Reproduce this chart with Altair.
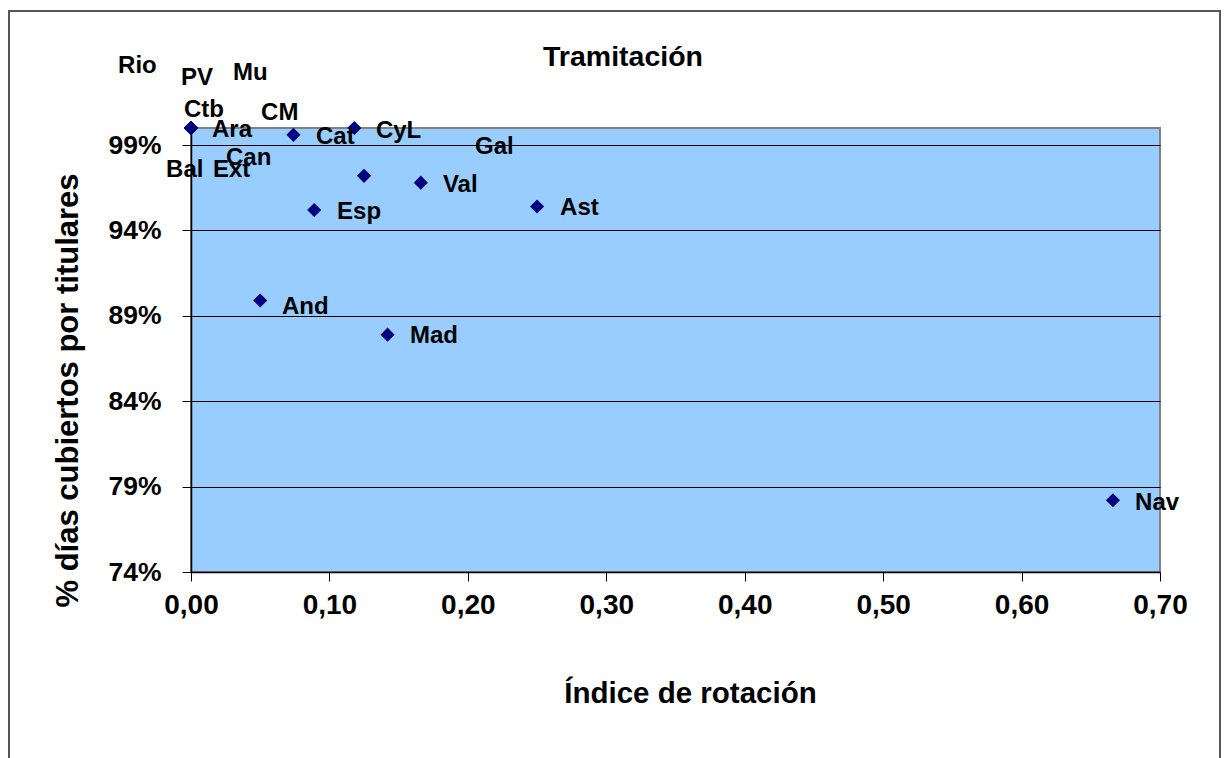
import altair as alt
import pandas as pd

# --- data ---
names = ["Rio", "PV", "Mu", "Ctb", "CM", "Ara", "Cat", "CyL", "Gal", "Can",
         "Bal", "Ext", "Val", "Ast", "Esp", "And", "Mad", "Nav"]
rotacion = [0.0, 0.0, 0.0, 0.0, 0.0, 0.0, 0.074, 0.118, 0.125, 0.0,
            0.0, 0.0, 0.166, 0.250, 0.089, 0.050, 0.142, 0.666]
cobertura = [1.0, 1.0, 1.0, 1.0, 1.0, 1.0, 0.996, 1.0, 0.972, 1.0,
             1.0, 1.0, 0.968, 0.954, 0.952, 0.899, 0.879, 0.782]
# label anchor positions (data units) as placed in the original chart
label_x = [-0.0527, -0.0072, 0.0303, -0.0051, 0.0506, 0.0152, 0.0903, 0.1336, 0.2052, 0.0253,
           -0.0180, 0.0159, 0.1820, 0.2666, 0.1055, 0.0657, 0.1582, 0.6820]
label_y = [1.0363, 1.0293, 1.0322, 1.0105, 1.0088, 0.9988, 0.9947, 0.9982, 0.9889, 0.9824,
           0.9754, 0.9754, 0.9666, 0.9532, 0.9508, 0.8952, 0.8782, 0.7804]

x_ticks = [0.0, 0.1, 0.2, 0.3, 0.4, 0.5, 0.6, 0.7]
y_ticks = [0.74, 0.79, 0.84, 0.89, 0.94, 0.99]

df = pd.DataFrame({"name": names, "x": rotacion, "y": cobertura,
                   "lx": label_x, "ly": label_y})

FONT = "Liberation Sans"
W, H = 969, 444

xscale = alt.Scale(domain=[0, 0.7], nice=False, zero=False)
yscale = alt.Scale(domain=[0.74, 1.0], nice=False, zero=False)

xaxis = alt.Axis(values=x_ticks, labelExpr="replace(format(datum.value, '.2f'), '.', ',')",
                 grid=False, title="Índice de rotación", titleFont=FONT, titleFontSize=29.5,
                 titleFontWeight="bold", titleColor="black", titleX=499, titleY=121,
                 titleBaseline="middle", labelFont=FONT, labelFontSize=28, labelFontWeight="bold",
                 labelColor="black", labelPadding=10, tickSize=9, tickColor="black",
                 domainColor="black", domainWidth=1.5, labelFlush=False)
yaxis = alt.Axis(values=y_ticks, format=".0%", grid=True, gridColor="black", gridWidth=1,
                 gridOpacity=1, title="% días cubiertos por titulares", titleFont=FONT,
                 titleFontSize=31, titleFontWeight="bold", titleColor="black",
                 titleX=-123, titleY=262, titleBaseline="middle", titleAlign="center",
                 labelFont=FONT, labelFontSize=26.5, labelFontWeight="bold", labelColor="black",
                 labelPadding=21, tickSize=9, tickColor="black", domainColor="black",
                 domainWidth=1.5, labelFlush=False)

base = alt.Chart(df)

points = base.mark_point(shape="diamond", filled=True, size=200, color="#000080", opacity=1).encode(
    x=alt.X("x:Q", scale=xscale, axis=xaxis),
    y=alt.Y("y:Q", scale=yscale, axis=yaxis),
)

labels = base.mark_text(align="left", baseline="middle", font=FONT, fontSize=24,
                        fontWeight="bold", color="black").encode(
    x=alt.X("lx:Q", scale=xscale),
    y=alt.Y("ly:Q", scale=yscale),
    text="name:N",
)

frame = alt.Chart(pd.DataFrame({"a": [0]})).mark_rect(
    fill=None, stroke="#555555", strokeWidth=2).encode(
    x=alt.value(-182), x2=alt.value(1029), y=alt.value(-117), y2=alt.value(700))

title_txt = alt.Chart(pd.DataFrame({"t": ["Tramitación"]})).mark_text(
    font=FONT, fontSize=28.5, fontWeight="bold", color="black", align="center",
    baseline="middle").encode(x=alt.value(432), y=alt.value(-71), text="t:N")

chart = alt.layer(frame, points, labels, title_txt).properties(
    width=W, height=H,
    autosize=alt.AutoSizeParams(type="none"),
    padding={"left": 183, "top": 120, "right": 61, "bottom": 186},
    background="white",
).configure_view(fill="#99CCFF", stroke="#808080", strokeWidth=2)

chart.save("out.html", embed_options={"renderer": "svg", "actions": False})
